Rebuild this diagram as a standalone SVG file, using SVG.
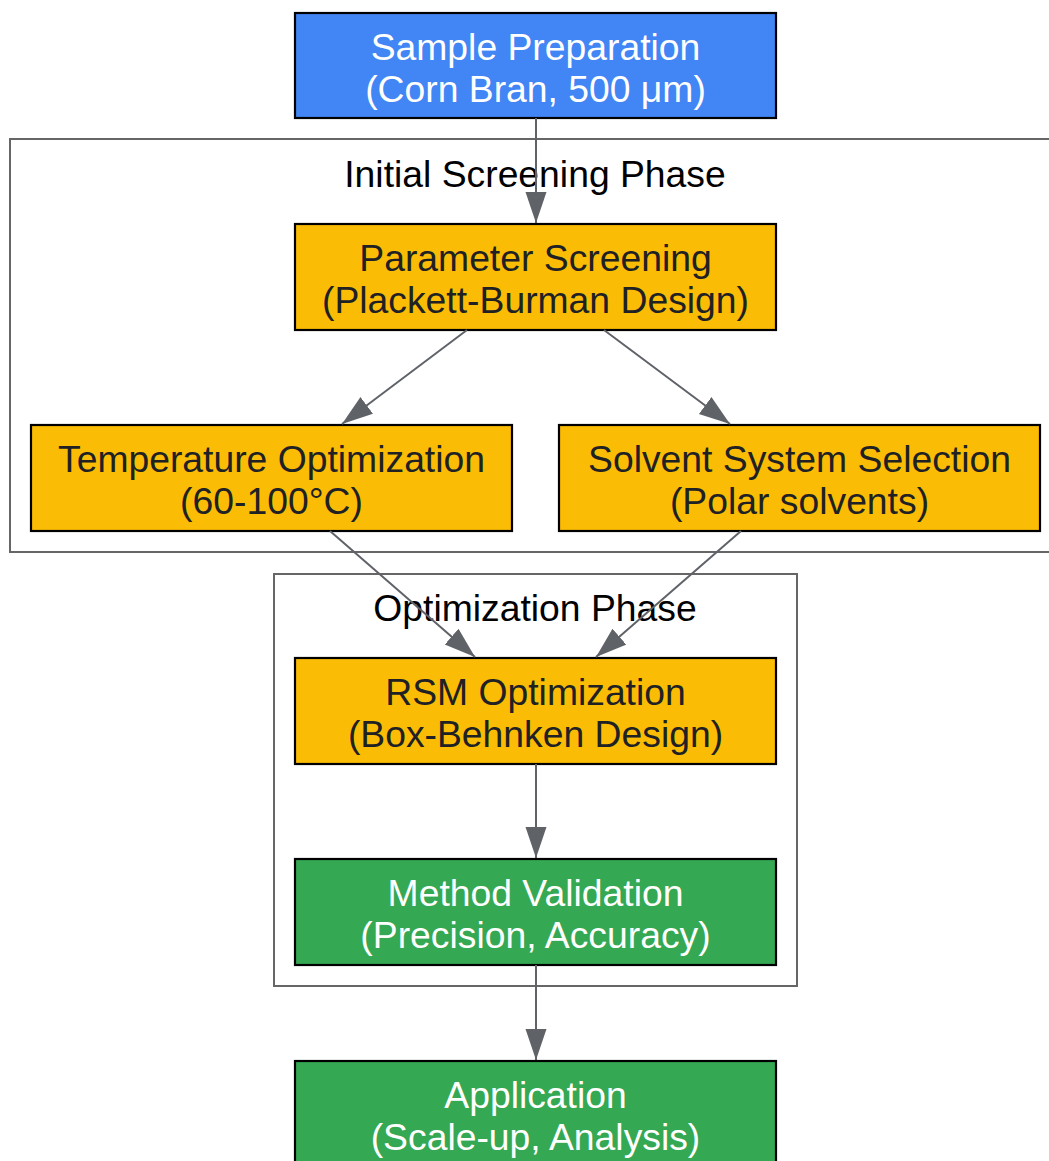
<svg xmlns="http://www.w3.org/2000/svg" width="1049" height="1161" viewBox="0 0 1049 1161">
<style>
text{font-family:"Liberation Sans",Arial,sans-serif;font-size:37.3px;text-anchor:middle}
.cl{fill:#ffffff;stroke:#666666;stroke-width:2}
.clt{fill:#000000}
.n{stroke:#000000;stroke-width:2.2}
.blue{fill:#4285F4}.yel{fill:#FBBC05}.grn{fill:#34A853}
.wt{fill:#ffffff}.dt{fill:#202124}
.e{stroke:#5f6368;stroke-width:2;fill:none;marker-end:url(#ah)}
</style>
<defs>
<marker id="ah" markerUnits="userSpaceOnUse" markerWidth="32" markerHeight="22" refX="31" refY="10.5" orient="auto">
<path d="M0,0 L31,10.5 L0,21 z" fill="#5f6368"/>
</marker>
</defs>
<rect width="1049" height="1161" fill="#ffffff"/>
<g id="cluster-initial">
<rect class="cl" x="10" y="139" width="1050" height="413"/>
<text class="clt" x="535" y="186.5">Initial Screening Phase</text>
</g>
<g id="cluster-optimization">
<rect class="cl" x="274" y="574" width="523" height="412"/>
<text class="clt" x="535" y="620.5">Optimization Phase</text>
</g>
<g id="sample">
<rect class="n blue" x="295" y="13" width="481" height="105"/>
<text class="wt" x="535.5" y="59.5">Sample Preparation</text>
<text class="wt" x="535.5" y="101.5">(Corn Bran, 500 μm)</text>
</g>
<g id="param">
<rect class="n yel" x="295" y="224" width="481" height="106"/>
<text class="dt" x="535.5" y="271">Parameter Screening</text>
<text class="dt" x="535.5" y="313">(Plackett-Burman Design)</text>
</g>
<g id="temp">
<rect class="n yel" x="31" y="425" width="481" height="106"/>
<text class="dt" x="271.5" y="472">Temperature Optimization</text>
<text class="dt" x="271.5" y="514">(60-100°C)</text>
</g>
<g id="solvent">
<rect class="n yel" x="559" y="425" width="481" height="106"/>
<text class="dt" x="799.5" y="472">Solvent System Selection</text>
<text class="dt" x="799.5" y="514">(Polar solvents)</text>
</g>
<g id="rsm">
<rect class="n yel" x="295" y="658" width="481" height="106"/>
<text class="dt" x="535.5" y="705">RSM Optimization</text>
<text class="dt" x="535.5" y="747">(Box-Behnken Design)</text>
</g>
<g id="validation">
<rect class="n grn" x="295" y="859" width="481" height="106"/>
<text class="wt" x="535.5" y="906">Method Validation</text>
<text class="wt" x="535.5" y="948">(Precision, Accuracy)</text>
</g>
<g id="application">
<rect class="n grn" x="295" y="1061" width="481" height="106"/>
<text class="wt" x="535.5" y="1108">Application</text>
<text class="wt" x="535.5" y="1150">(Scale-up, Analysis)</text>
</g>
<g id="connectors">
<line class="e" x1="536" y1="118" x2="536" y2="223"/>
<line class="e" x1="467" y1="330" x2="342" y2="424"/>
<line class="e" x1="604" y1="330" x2="730" y2="424"/>
<line class="e" x1="330" y1="531" x2="475" y2="657"/>
<line class="e" x1="741" y1="531" x2="596" y2="657"/>
<line class="e" x1="536" y1="764" x2="536" y2="858"/>
<line class="e" x1="536" y1="965" x2="536" y2="1060"/>
</g>
</svg>
